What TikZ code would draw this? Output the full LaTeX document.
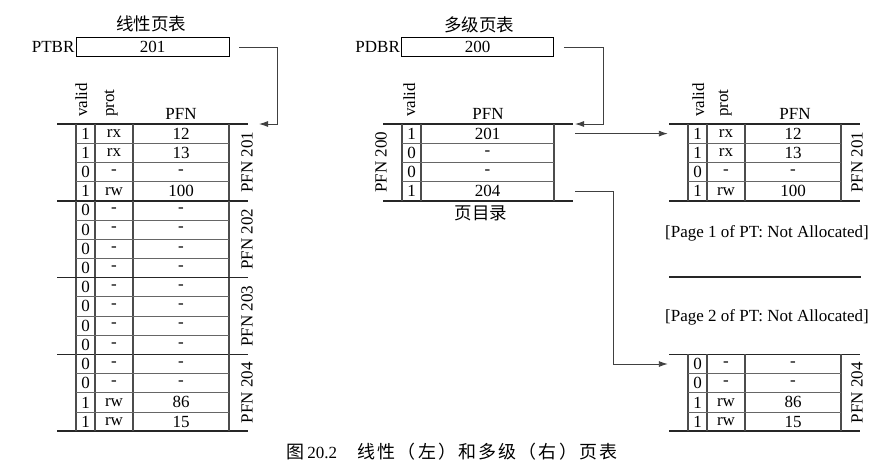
\documentclass[tikz,border=0pt]{standalone}
\usepackage{fontspec}
\setmainfont{Liberation Serif}
\newfontfamily\cjk{Noto Sans CJK SC}
\newfontfamily\cjkwide[LetterSpace=12]{Noto Sans CJK SC}
\usetikzlibrary{arrows.meta}
\usetikzlibrary{calc}

\tikzset{
    cell/.style={inner sep=0pt, minimum height=19.2pt},
    thickrule/.style={line width=1.6pt, draw=black!85},
    colrule/.style={line width=1.2pt, draw=black!70},
    rowrule/.style={line width=0.8pt, draw=black!60},
    link/.style={line width=0.9pt, draw=black!75, -{Latex[length=9pt,width=6pt]}},
    hdr/.style={inner sep=0pt, rotate=90, anchor=base west},
    regbox/.style={draw, line width=0.8pt, inner sep=0pt, minimum height=18.5pt},
}

% one page of a page table: #1 = x of valid column, #2 = top, #3 = name, #4 = rows
\newcommand{\ptpage}[4]{
    \draw[thickrule] (#1-19,#2) -- (#1+172,#2);
    \draw[thickrule] (#1-19,#2+76.8) -- (#1+172,#2+76.8);
    \foreach \c in {0,19,57,153}
        \draw[colrule] (#1+\c,#2) -- (#1+\c,#2+76.8);
    \foreach \r in {1,2,3}
        \draw[rowrule] (#1,#2+\r*19.2) -- (#1+153,#2+\r*19.2);
    \foreach \vld/\prt/\pfn [count=\i] in {#4} {
        \node[cell, minimum width=19pt] (#3-\i-v) at (#1+9.5,#2+\i*19.2-9.6) {\vld};
        \node[cell, minimum width=38pt] (#3-\i-p) at (#1+38,#2+\i*19.2-9.6) {\prt};
        \node[cell, minimum width=96pt] (#3-\i-f) at (#1+105,#2+\i*19.2-9.6) {\pfn};
    }
}

\begin{document}
\begin{tikzpicture}[x=1pt, y=-1pt, font=\fontsize{17pt}{19pt}\selectfont]
    \useasboundingbox (0,0) rectangle (896,472);

    % Linear page table
    \node (lin-title) at (151,24) {\fontsize{17.5pt}{19pt}\cjk 线性页表};
    \node[regbox, minimum width=153pt] (ptbr) at (152.5,47) {201};
    \node[anchor=east, inner sep=1pt] (ptbr-lbl) at (ptbr.west) {PTBR};

    \node[hdr] (L-hv) at (87,117) {valid};
    \node[hdr] (L-hp) at (114,117) {prot};
    \node[inner sep=0pt, anchor=base] (L-hf) at (181,119) {PFN};

    \ptpage{76}{124}{L201}{1/rx/12, 1/rx/13, 0/-/-, 1/rw/100}
    \ptpage{76}{200.8}{L202}{0/-/-, 0/-/-, 0/-/-, 0/-/-}
    \ptpage{76}{277.6}{L203}{0/-/-, 0/-/-, 0/-/-, 0/-/-}
    \ptpage{76}{354.4}{L204}{0/-/-, 0/-/-, 1/rw/86, 1/rw/15}

    \node[rotate=90, inner sep=0pt] (L201-lbl) at (247,162.4) {PFN 201};
    \node[rotate=90, inner sep=0pt] (L202-lbl) at (247,239.2) {PFN 202};
    \node[rotate=90, inner sep=0pt] (L203-lbl) at (247,316) {PFN 203};
    \node[rotate=90, inner sep=0pt] (L204-lbl) at (247,392.8) {PFN 204};

    \coordinate (L-in) at (259,124);
    \draw[link] ([xshift=10pt]ptbr.east) -| ([xshift=18pt]L-in) -- (L-in);

    % Multi-level page table: page directory
    \node (ml-title) at (479,25) {\fontsize{17.5pt}{19pt}\cjk 多级页表};
    \node[regbox, minimum width=152pt] (pdbr) at (477.5,47) {200};
    \node[anchor=east, inner sep=1pt] (pdbr-lbl) at (pdbr.west) {PDBR};

    \node[hdr] (M-hv) at (415,117) {valid};
    \node[inner sep=0pt, anchor=base] (M-hf) at (488,119) {PFN};

    \draw[thickrule] (383,124) -- (573,124);
    \draw[thickrule] (383,200.8) -- (573,200.8);
    \foreach \c in {402,421,554}
        \draw[colrule] (\c,124) -- (\c,200.8);
    \foreach \r in {1,2,3}
        \draw[rowrule] (402,124+\r*19.2) -- (554,124+\r*19.2);
    \foreach \vld/\pfn [count=\i] in {1/201, 0/-, 0/-, 1/204} {
        \node[cell, minimum width=19pt] (M-\i-v) at (411.5,124+\i*19.2-9.6) {\vld};
        \node[cell, minimum width=133pt] (M-\i-f) at (487.5,124+\i*19.2-9.6) {\pfn};
    }
    \node[rotate=90, inner sep=0pt] (M-lbl) at (381,162.4) {PFN 200};
    \node (M-caption) at (481,213) {\fontsize{17.5pt}{19pt}\cjk 页目录};

    \coordinate (M-in) at (575,124);
    \draw[link] ([xshift=10pt]pdbr.east) -| ([xshift=28pt]M-in) -- (M-in);

    % Multi-level page table: pages of the page table
    \node[hdr] (R-hv) at (704,117) {valid};
    \node[hdr] (R-hp) at (728,117) {prot};
    \node[inner sep=0pt, anchor=base] (R-hf) at (795,119) {PFN};

    \ptpage{688}{124}{R201}{1/rx/12, 1/rx/13, 0/-/-, 1/rw/100}
    \node[rotate=90, inner sep=0pt] (R201-lbl) at (857,162.4) {PFN 201};

    \node (R-na1) at (767,233) {[Page 1 of PT: Not Allocated]};
    \draw[thickrule] (669,277) -- (861,277);
    \node (R-na2) at (767,317) {[Page 2 of PT: Not Allocated]};

    \ptpage{688}{354.4}{R204}{0/-/-, 0/-/-, 1/rw/86, 1/rw/15}
    \node[rotate=90, inner sep=0pt] (R204-lbl) at (857,392.8) {PFN 204};

    \draw[link] ([xshift=21pt]M-1-f.east) -- ([xshift=-20pt]R201-1-v.west);
    \draw[link] ([xshift=21pt]M-4-f.east) -- ++(38,0) |- ([xshift=-20pt]R204-1-v.west);

    % Caption
    \node (fig-caption) at (452,452) {{\fontsize{18pt}{19pt}\cjk 图}\,20.2\hspace{1.2em}{\fontsize{18pt}{19pt}\cjkwide 线性（左）和多级（右）页表}};
\end{tikzpicture}
\end{document}
